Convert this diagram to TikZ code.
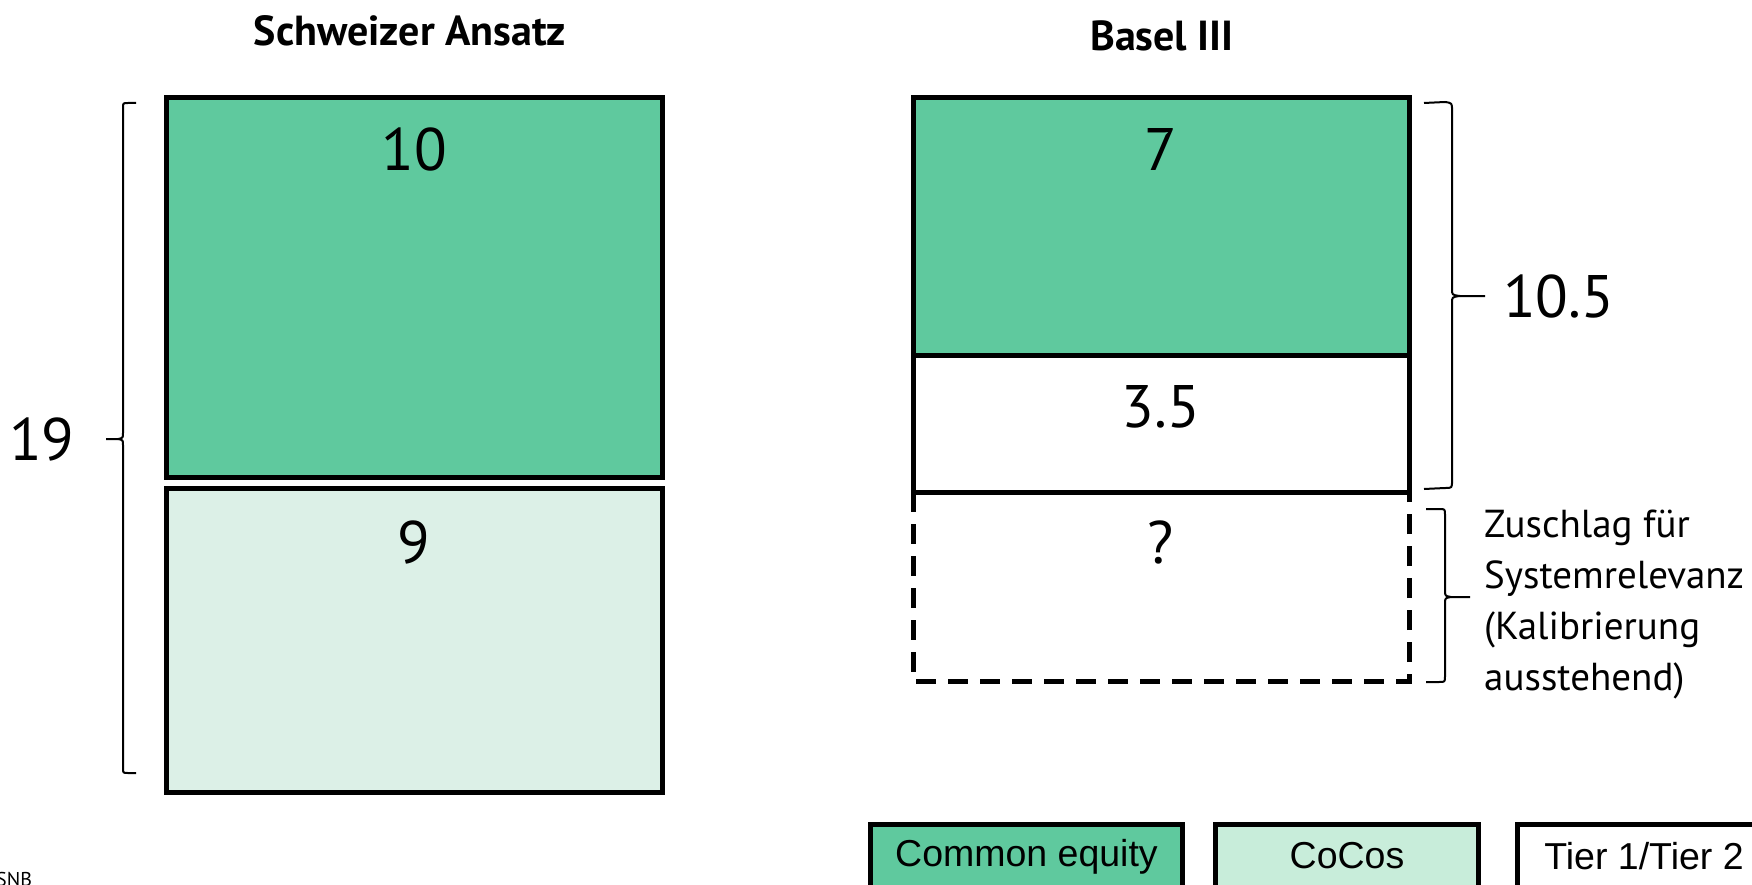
\documentclass[tikz,border=0pt]{standalone}
\usepackage{fontspec}
\setmainfont{PT Sans}
\newfontfamily\legfont{Liberation Sans}
\usetikzlibrary{calc}
\definecolor{ceq}{HTML}{5FC99E}
\definecolor{coco}{HTML}{DCF0E7}
\definecolor{cocoleg}{HTML}{C8EDDA}
\tikzset{
  bar/.style={draw=black, line width=5pt, anchor=north west, inner sep=0pt, outer sep=0pt},
  num/.style={font=\fontsize{60}{64}\selectfont, inner sep=0pt},
  ttl/.style={font=\fontsize{42}{46}\bfseries\selectfont, inner sep=0pt},
  brc/.style={line width=2pt, line join=round},
  leg/.style={draw=black, line width=5pt, anchor=north west, inner sep=0pt, minimum height=80pt},
  legtxt/.style={font=\legfont\fontsize{37.5}{40}\selectfont, inner sep=0pt},
  note/.style={font=\fontsize{39}{51}\selectfont, align=left, inner sep=0pt, anchor=north west}
}
\begin{document}
\begin{tikzpicture}[x=1pt,y=-1pt]
\useasboundingbox (0,0) rectangle (1752,885);
% titles
\node[ttl] (t1) at (410,31) {Schweizer Ansatz};
\node[ttl] (t2) at (1162,36) {Basel III};
% left stack
\node[bar, fill=ceq, minimum width=496pt, minimum height=379pt] (lg) at (166,98) {};
\node[bar, fill=coco, minimum width=496pt, minimum height=304pt] (ll) at (166,488) {};
\node[num] (n10) at ($(lg.north)+(0,52)$) {10};
\node[num] (n9) at ($(ll.north)+(0,54)$) {9};
% right stack
\node[bar, fill=ceq, minimum width=496pt, minimum height=257pt] (rg) at (913,98) {};
\node[bar, fill=white, minimum width=496pt, minimum height=137pt] (rw) at (913,355) {};
\node[bar, draw=none, minimum width=496pt, minimum height=189pt] (rd) at (913,492) {};
\draw[line width=5pt, dash pattern=on 20pt off 12pt] (rd.north west) -- (rd.south west) -- (rd.south east) -- (rd.north east);
\node[num] (n7) at ($(rg.north)+(0,52)$) {7};
\node[num] (n35) at ($(rw.north)+(0,52)$) {3.5};
\node[num] (nq) at ($(rd.north)+(0,50)$) {?};
% left brace
\coordinate (lb1) at (136,103);
\coordinate (lb2) at (136,773);
\coordinate (lbt) at (106,439);
\draw[brc] (lb1) -- (128,103) .. controls (123,103) .. (123,108) -- (123,433) .. controls (123,438) .. (118,439) -- (lbt);
\draw[brc] (118,439) .. controls (123,440) .. (123,445) -- (123,768) .. controls (123,773) .. (128,773) -- (lb2);
\node[num] (n19) at (42,439) {19};
% right brace 1
\coordinate (rb1) at (1424,103);
\coordinate (rb2) at (1424,489);
\coordinate (rbt) at (1485,296);
\draw[brc] (rb1) -- (1445,102) .. controls (1452,103) .. (1452,110) -- (1452,289) .. controls (1452,295) .. (1460,296) -- (rbt);
\draw[brc] (1460,296) .. controls (1452,297) .. (1452,303) -- (1452,481) .. controls (1452,488) .. (1445,488) -- (rb2);
\node[num, anchor=west] (n105) at (1503,296) {10.5};
% right brace 2
\coordinate (sb1) at (1426,509);
\coordinate (sb2) at (1426,682);
\coordinate (sbt) at (1470,597);
\draw[brc] (sb1) -- (1439,509) .. controls (1445,509) .. (1445,515) -- (1445,590) .. controls (1445,596) .. (1451,597) -- (sbt);
\draw[brc] (1451,597) .. controls (1445,598) .. (1445,604) -- (1445,676) .. controls (1445,682) .. (1439,682) -- (sb2);
\node[note] (zt) at (1484,510) {Zuschlag für\\Systemrelevanz\\(Kalibrierung\\ausstehend)};
% legend
\node[leg, fill=ceq, minimum width=312pt] (l1) at (868,822) {};
\node[leg, fill=cocoleg, minimum width=263pt] (l2) at (1213,822) {};
\node[leg, fill=white, minimum width=260pt] (l3) at (1515,822) {};
\node[legtxt] (lt1) at ($(l1.north)+(0,35)$) {Common equity};
\node[legtxt] (lt2) at ($(l2.north)+(0,34)$) {CoCos};
\node[legtxt] (lt3) at (1644,856) {Tier 1/Tier 2};
% source
\node[font=\fontsize{20}{22}\selectfont, anchor=north west, inner sep=0pt] (src) at (-4,872) {SNB};
\end{tikzpicture}
\end{document}
